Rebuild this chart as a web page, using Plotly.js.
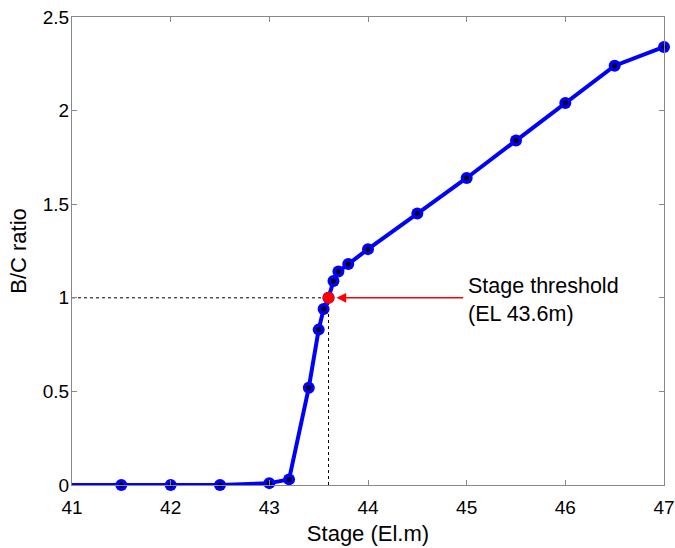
<!DOCTYPE html>
<html>
<head>
<meta charset="utf-8">
<script src="https://cdn.plot.ly/plotly-3.0.1.min.js"></script>
<style>html,body{margin:0;padding:0;background:#fff;}#chart{width:675px;height:548px;}</style>
</head>
<body>
<div id="chart"></div>
<script>
var stage = [41, 41.5, 42, 42.5, 43, 43.2, 43.4, 43.5, 43.55, 43.6, 43.65, 43.7, 43.8, 44, 44.5, 45, 45.5, 46, 46.5, 47];
var bcRatio = [0, 0, 0, 0, 0.01, 0.03, 0.52, 0.83, 0.94, 1.0, 1.09, 1.14, 1.18, 1.26, 1.45, 1.64, 1.84, 2.04, 2.24, 2.34];
var thresholdStage = 43.6;
var thresholdRatio = 1.0;
var xTicks = [41, 42, 43, 44, 45, 46, 47];
var yTicks = [0, 0.5, 1, 1.5, 2, 2.5];
var yTickLabels = ['0', '0.5', '1', '1.5', '2', '2.5'];
var annotationText = 'Stage threshold<br>(EL 43.6m)';

var mStage = stage.slice(1);
var mRatio = bcRatio.slice(1);

var traces = [
  {x:[41, thresholdStage], y:[thresholdRatio, thresholdRatio], mode:'lines', line:{color:'#000', width:1, dash:'3px,3px'}, hoverinfo:'skip'},
  {x:[thresholdStage, thresholdStage], y:[0, thresholdRatio], mode:'lines', line:{color:'#000', width:1, dash:'3px,3px'}, hoverinfo:'skip'},
  {x:stage, y:bcRatio, mode:'lines', line:{color:'#0000ff', width:4}, cliponaxis:true},
  {x:mStage, y:mRatio, mode:'markers', marker:{color:'#0000ff', size:12}, cliponaxis:false},
  {x:mStage, y:mRatio, mode:'markers', marker:{color:'#000', size:5}, cliponaxis:false},
  {x:[thresholdStage], y:[thresholdRatio], mode:'markers', marker:{color:'#ff0000', size:12}, cliponaxis:false}
];

var layout = {
  width:675, height:548,
  margin:{l:72, r:11, t:17, b:63},
  paper_bgcolor:'#fff', plot_bgcolor:'#fff',
  showlegend:false,
  font:{family:'Liberation Sans, Arial, sans-serif', color:'#000', size:19},
  xaxis:{range:[41,47], tickvals:xTicks, ticktext:xTicks.map(String), ticks:'inside', ticklen:5, tickcolor:'#888',
    showline:true, linecolor:'#888', linewidth:1, mirror:'ticks', showgrid:false, zeroline:false,
    ticklabelstandoff:5, ticklabeloverflow:'allow',
    tickfont:{size:19}, title:{text:'Stage (El.m)', font:{size:22}, standoff:8}},
  yaxis:{range:[0,2.5], tickvals:yTicks, ticktext:yTickLabels, ticks:'inside', ticklen:5, tickcolor:'#888',
    showline:true, linecolor:'#888', linewidth:1, mirror:'ticks', showgrid:false, zeroline:false,
    ticklabelstandoff:-2, ticklabeloverflow:'allow',
    tickfont:{size:19}, title:{text:'B/C ratio', font:{size:22}, standoff:10}},
  annotations:[
    {x:43.68, y:thresholdRatio, xref:'x', yref:'y', ax:44.98, ay:thresholdRatio, axref:'x', ayref:'y',
      text:'', showarrow:true, arrowhead:2, arrowsize:1.3, arrowwidth:1.5, arrowcolor:'#ff0000'},
    {x:44.99, y:0.99, xref:'x', yref:'y', text:annotationText, showarrow:false, xanchor:'left', yanchor:'middle',
      align:'left', font:{size:21.5, color:'#000'}}
  ]
};

Plotly.newPlot('chart', traces, layout, {displayModeBar:false, staticPlot:true});
</script>
</body>
</html>
